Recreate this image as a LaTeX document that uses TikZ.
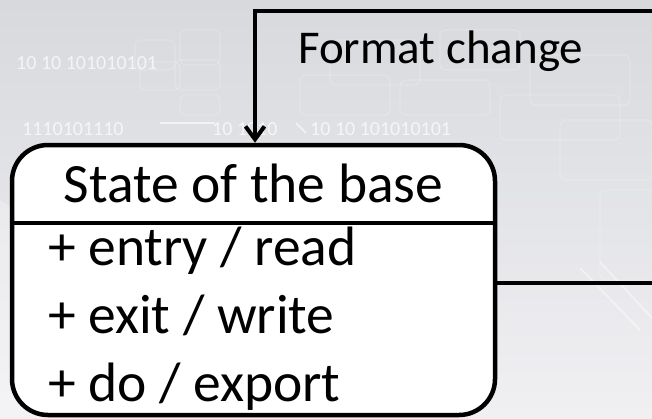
\documentclass[tikz,border=0pt]{standalone}
\usepackage{fontspec}
\setmainfont{Carlito}
\usetikzlibrary{arrows.meta}

\tikzset{
  statebox/.style={draw=black, fill=white, line width=4.5pt, rounded corners=36pt,
    minimum width=483pt, minimum height=270pt, inner sep=0pt},
  divider/.style={line width=4pt},
  conn/.style={line width=4pt, -{Straight Barb[length=13pt,width=19pt,line width=4pt]}},
  titletext/.style={anchor=base, inner sep=0pt, font=\fontsize{55.5}{66}\selectfont},
  rowtext/.style={anchor=base west, inner sep=0pt, font=\fontsize{55.5}{66}\selectfont},
  labeltext/.style={anchor=base west, inner sep=0pt, font=\fontsize{47}{56}\selectfont},
  bits/.style={anchor=base west, inner sep=0pt, text=white, opacity=0.7,
    font=\fontsize{20}{24}\selectfont},
  chip/.style={draw=white, line width=1.2pt, rounded corners=6pt, opacity=0.18}
}

\begin{document}
\begin{tikzpicture}[x=1pt, y=-1pt]
  \useasboundingbox (0,0) rectangle (652,418);
  \clip (0,0) rectangle (652,418);

  % backdrop: soft grey gradient with faint circuit ornament
  \shade[top color={rgb,255:red,216;green,217;blue,221}, bottom color={rgb,255:red,240;green,240;blue,243}]
    (0,0) rectangle (652,418);
  \fill[white, opacity=0.25] (0,200) -- (70,250) -- (70,418) -- (0,418) -- cycle;
  \foreach \x/\y/\w/\h in {330/40/90/45, 440/30/80/40, 530/55/100/50, 135/40/40/30,
      140/62/40/28, 180/30/40/35, 175/60/45/30, 300/75/90/40, 400/80/90/35,
      500/95/120/45, 180/95/40/20, 560/120/92/60, 600/190/60/90}
    \draw[chip] (\x,\y) rectangle ++(\w,\h);
  \draw[white, line width=1.5pt, opacity=0.6] (160,123) -- (215,123);
  \draw[white, line width=1.5pt, opacity=0.6] (296,123) -- (306,133);
  \draw[white, line width=2pt, opacity=0.4] (600,262) -- (652,318);
  \draw[white, line width=2pt, opacity=0.4] (580,268) -- (640,330);
  \node[bits] (b1) at (16,69) {10 10 101010101};
  \node[bits] (b2) at (22,135) {1110101110};
  \node[bits] (b3) at (212,135) {10 1010};
  \node[bits] (b4) at (310,135) {10 10 101010101};

  % the state with its two compartments
  \node[statebox] (state) at (253.5,280) {};
  \draw[divider] (state.west |- 0,223) coordinate (dl) -- (state.east |- 0,223) coordinate (dr);
  \node[titletext] (title) at (253.5,202) {State of the base};
  \node[rowtext] (entry) at (48,265) {+ entry / read};
  \node[rowtext] (exit) at (48,333) {+ exit / write};
  \node[rowtext] (do) at (48,401) {+ do / export};

  % self transition running round the outside of the picture
  \coordinate (out) at (state.east |- 0,283);
  \coordinate (in) at (state.north -| 255,0);
  \draw[conn] (out) -- (700,283) -- (700,11) -- (255,11) -- (in);
  \node[labeltext] (trigger) at (298,63) {Format change};
\end{tikzpicture}
\end{document}
